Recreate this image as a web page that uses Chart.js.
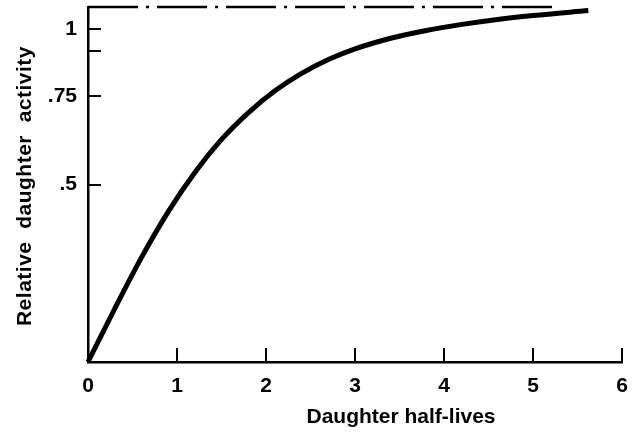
<!DOCTYPE html>
<html>
<head>
<meta charset="utf-8">
<script src="https://cdn.jsdelivr.net/npm/chart.js@4"></script>
<style>
  html, body { margin: 0; padding: 0; background: #fff; }
  canvas { display: block; }
</style>
</head>
<body>
<canvas id="decayChart" width="640" height="432"></canvas>
<script>
const halfLives = [0, 0.3, 0.6, 0.9, 1.2, 1.5, 1.8, 2.1, 2.4, 2.7, 3.0, 3.4, 3.8, 4.2, 4.6, 5.0, 5.62];
const activity = [0, 0.15, 0.294, 0.423, 0.534, 0.627, 0.702, 0.764, 0.813, 0.852, 0.882, 0.912, 0.934, 0.951, 0.965, 0.976, 0.99];

// equilibrium line
const limitX = [0, 5.3];
const limitY = [1, 1];

const xTicks = [0, 1, 2, 3, 4, 5, 6];
const yTickValues = [0.5, 0.75, 0.875, 0.9375];
const yTickLabels = [".5", ".75", "", "1"];

const xTitle = "Daughter half-lives";
const yTitle = "Relative  daughter  activity";

const FONT = "'Liberation Sans', Arial, Helvetica, sans-serif";

// tick marks point into the plot, and the axis titles sit off-centre,
// so both are drawn here
const axisDecor = {
  id: "axisDecor",
  afterDraw(chart) {
    const { ctx, scales } = chart;
    const x = scales.x;
    const y = scales.y;
    ctx.save();
    ctx.strokeStyle = "#000";
    ctx.lineWidth = 2;
    ctx.beginPath();
    xTicks.filter((v) => v > 0).forEach((v) => {
      const px = Math.round(x.getPixelForValue(v));
      ctx.moveTo(px, y.bottom);
      ctx.lineTo(px, y.bottom - 14);
    });
    yTickValues.forEach((v) => {
      const py = Math.round(y.getPixelForValue(v));
      ctx.moveTo(x.left, py);
      ctx.lineTo(x.left + 13, py);
    });
    ctx.stroke();

    ctx.fillStyle = "#000";
    ctx.textAlign = "center";
    ctx.textBaseline = "middle";
    ctx.font = "bold 21px " + FONT;
    ctx.fillText(xTitle, 401, 417);

    ctx.translate(25, 186);
    ctx.rotate(-Math.PI / 2);
    ctx.letterSpacing = "0.5px";
    ctx.fillText(yTitle, 0, 0);
    ctx.restore();
  },
};

function initChart() {
  const ctx = document.getElementById("decayChart");

  return new Chart(ctx, {
    type: "line",
    data: {
      datasets: [
        {
          data: halfLives.map((t, i) => ({ x: t, y: activity[i] })),
          borderColor: "#000",
          borderWidth: 5,
          pointRadius: 0,
          cubicInterpolationMode: "monotone",
          clip: false,
        },
        {
          data: limitX.map((t, i) => ({ x: t, y: limitY[i] })),
          borderColor: "#000",
          borderWidth: 2.5,
          borderDash: [50, 8, 3, 8],
          pointRadius: 0,
          clip: false,
        },
      ],
    },
    options: {
      responsive: false,
      animation: false,
      layout: { padding: { top: 7, right: 16, left: 0, bottom: 0 } },
      plugins: {
        legend: { display: false },
        tooltip: { enabled: false },
      },
      scales: {
        x: {
          type: "linear",
          min: 0,
          max: 6,
          afterBuildTicks: (scale) => {
            scale.ticks = xTicks.map((v) => ({ value: v }));
          },
          afterFit: (scale) => {
            scale.height = 70;
          },
          grid: { display: false, drawTicks: false },
          border: { color: "#000", width: 2.5 },
          ticks: {
            color: "#000",
            padding: 12,
            maxRotation: 0,
            font: { family: FONT, size: 21, weight: "bold" },
          },
        },
        y: {
          type: "linear",
          min: 0,
          max: 1,
          afterBuildTicks: (scale) => {
            scale.ticks = yTickValues.map((v) => ({ value: v }));
          },
          afterFit: (scale) => {
            scale.width = 88;
            scale.paddingTop = 0;
            scale.paddingBottom = 0;
          },
          grid: { display: false, drawTicks: false },
          border: { color: "#000", width: 2.5 },
          ticks: {
            color: "#000",
            padding: 11,
            font: { family: FONT, size: 21, weight: "bold" },
            callback: (value) => yTickLabels[yTickValues.indexOf(value)],
          },
        },
      },
    },
    plugins: [axisDecor],
  });
}

initChart();
</script>
</body>
</html>
